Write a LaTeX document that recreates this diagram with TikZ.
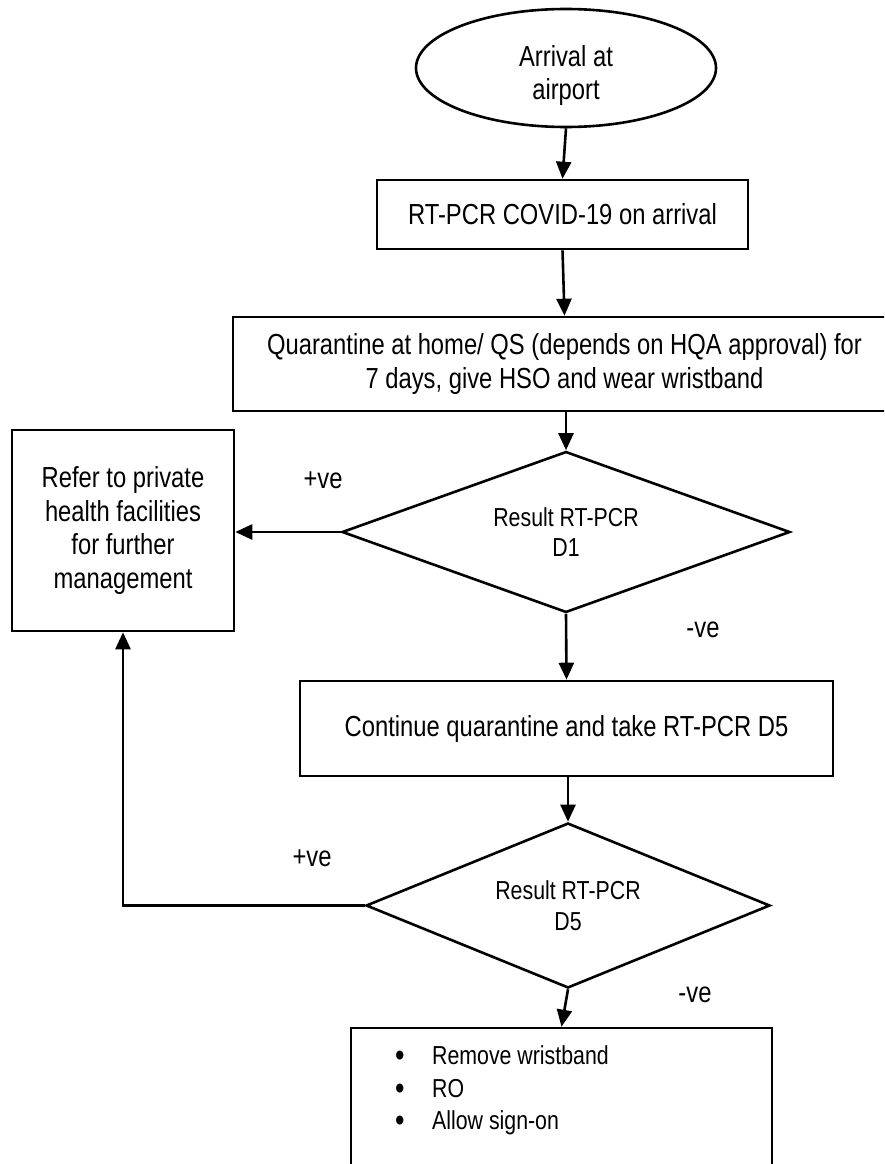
\documentclass[tikz,border=0pt]{standalone}
\usepackage{fontspec}
\setmainfont[FakeStretch=0.82]{Liberation Sans}
\usetikzlibrary{shapes.geometric,arrows.meta}
\newcommand{\bigdot}{\makebox[37pt][l]{\smash{\raisebox{-2.5pt}{\fontsize{33}{33}\selectfont\textbullet}}}}
\begin{document}
\begin{tikzpicture}[x=1pt,y=-1pt,
  box/.style={draw, line width=2.6pt, inner sep=0pt, align=center},
  dec/.style={draw, diamond, line width=2.6pt, inner sep=0pt, align=center, font=\fontsize{26}{30.5}\selectfont},
  arr/.style={line width=2.6pt, -{Triangle[length=17pt,width=15pt]}},
  lbl/.style={font=\fontsize{29}{34}\selectfont, inner sep=0pt},
  itm/.style={anchor=base west, inner sep=0pt, font=\fontsize{26}{33}\selectfont},
  font=\fontsize{29}{33.5}\selectfont]
\useasboundingbox (0,0) rectangle (884,1164);
\clip (0,0) rectangle (884,1164);
\fill[white] (0,0) rectangle (884,1164);

\node[box, ellipse, minimum width=300pt, minimum height=118pt] (start) at (566,68) {\rule{0pt}{36pt}Arrival at\\airport};
\node[box, minimum width=371pt, minimum height=69pt] (rt) at (562.5,214.5) {RT-PCR COVID-19 on arrival};
\node[box, minimum width=663pt, minimum height=94pt] (qua) at (564.5,364) {Quarantine at home/ QS (depends on HQA approval) for\\7 days, give HSO and wear wristband};
\node[dec, aspect=2.78, minimum width=448pt, minimum height=161pt] (d1) at (566,532) {Result RT-PCR\\D1};
\node[box, minimum width=222pt, minimum height=201pt] (ref) at (123,530.5) {Refer to private\\health facilities\\for further\\management};
\node[box, minimum width=533pt, minimum height=95pt] (cont) at (566.5,728.5) {Continue quarantine and take RT-PCR D5};
\node[dec, aspect=2.45, minimum width=404pt, minimum height=165pt] (d2) at (568,905.5) {Result RT-PCR\\D5};
\node[box, minimum width=421pt, minimum height=220pt] (fin) at (561.5,1138) {};

\node[itm] (l1) at (395,1064) {\bigdot Remove wristband};
\node[itm] (l2) at (395,1097) {\bigdot RO};
\node[itm] (l3) at (395,1129) {\bigdot Allow sign-on};

\draw[arr] (start.south) -- (rt.north);
\draw[arr] (rt.south) -- (qua.north);
\draw[arr] (qua.south -| d1.north) -- (d1.north);
\draw[arr] (d1.west) -- (d1.west -| ref.east);
\draw[arr] (d1.south) -- (cont.north);
\draw[arr] (cont.south -| d2.north) -- (d2.north);
\draw[arr] (d2.west) -- (d2.west -| ref.south) -- (ref.south);
\draw[arr] (d2.south) -- (fin.north);

\node[lbl] (p1) at (323,480) {+ve};
\node[lbl] (n1) at (703,630) {-ve};
\node[lbl] (p2) at (312,858) {+ve};
\node[lbl] (n2) at (695,995) {-ve};
\end{tikzpicture}
\end{document}
